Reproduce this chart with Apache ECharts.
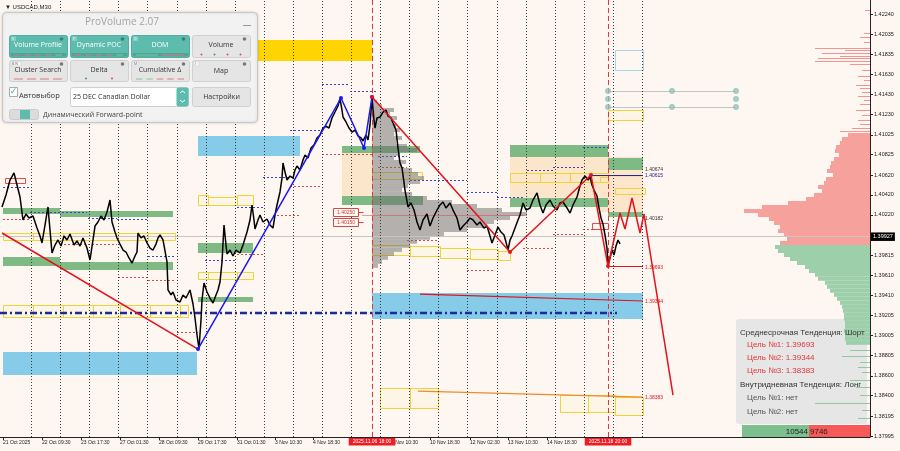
<!DOCTYPE html>
<html><head><meta charset="utf-8">
<script src="https://cdn.jsdelivr.net/npm/echarts@6/dist/echarts.min.js"></script>
<style>html,body{margin:0;padding:0;background:#fdf6f1;}#c{width:900px;height:451px;}</style>
</head><body><div id="c"></div>
<script>
// ---------- DATA ----------
const yMin = 1.37985, yMax = 1.42381;
const barMax = 870;
const currentPrice = 1.39927;
const xLabelPos = [3,42,81,120,159,198,237,275,313,352,391,430,470,508,547];
const xLabelText = ['21 Oct 2025','22 Oct 09:30','23 Oct 17:30','27 Oct 01:30','28 Oct 09:30','29 Oct 17:30','31 Oct 01:30','3 Nov 10:30','4 Nov 18:30','6 Nov 02:30','7 Nov 10:30','10 Nov 18:30','12 Nov 02:30','13 Nov 10:30','14 Nov 18:30'];
const yTickValues = [1.42240,1.42035,1.41835,1.41630,1.41430,1.41230,1.41025,1.40825,1.40620,1.40420,1.40220,1.40015,1.39815,1.39610,1.39410,1.39205,1.39005,1.38805,1.38600,1.38400,1.38195,1.37995];
const gridLineX = [31,60,89,118,147,177,206,235,264,293,322,351,380,409,438,467,497,526,555,584,613,642];
const sessionLineX = [372,608];
const sessionLineText = ['2025.11.06 18:00','2025.11.18 20:00'];

const pricePath = [[2,1.40299],[6,1.40419],[10,1.40570],[14,1.40641],[17,1.40520],[20,1.40399],[23,1.40168],[26,1.40228],[29,1.40188],[33,1.40208],[37,1.40087],[40,1.40007],[42,1.39937],[45,1.40117],[48,1.40299],[50,1.40067],[52,1.39836],[55,1.39916],[58,1.39967],[61,1.39906],[64,1.40007],[67,1.39967],[70,1.40027],[74,1.39916],[77,1.39957],[80,1.39906],[83,1.39987],[87,1.39886],[90,1.39766],[93,1.39967],[95,1.40107],[98,1.40148],[101,1.40208],[104,1.40168],[107,1.40248],[110,1.40369],[112,1.40148],[115,1.40047],[117,1.39987],[120,1.39926],[123,1.39866],[126,1.39846],[129,1.39786],[132,1.39735],[135,1.39806],[137,1.39846],[138,1.40037],[141,1.39987],[144,1.40007],[147,1.39937],[150,1.39886],[153,1.39866],[156,1.39926],[158,1.39987],[160,1.40017],[163,1.39967],[165,1.39987],[167,1.39746],[168,1.39464],[171,1.39414],[173,1.39444],[176,1.39363],[180,1.39343],[183,1.39414],[186,1.39383],[190,1.39464],[193,1.39323],[195,1.39182],[197,1.39011],[199,1.38875],[201,1.39162],[202,1.39363],[204,1.39534],[207,1.39444],[210,1.39383],[213,1.39333],[216,1.39414],[218,1.39464],[220,1.39544],[222,1.39745],[224,1.40117],[226,1.39916],[227,1.39826],[230,1.39866],[233,1.39806],[236,1.39866],[240,1.39836],[243,1.39916],[247,1.40047],[250,1.40168],[252,1.40319],[254,1.40168],[255,1.40077],[258,1.40168],[260,1.40218],[263,1.40148],[267,1.40178],[270,1.40117],[273,1.40087],[275,1.40218],[277,1.40319],[280,1.40450],[282,1.40590],[283,1.40741],[285,1.40651],[287,1.40570],[290,1.40610],[293,1.40590],[295,1.40671],[297,1.40711],[300,1.40671],[303,1.40771],[305,1.40822],[308,1.40792],[311,1.40892],[314,1.40923],[317,1.40993],[320,1.41023],[323,1.41093],[326,1.41113],[329,1.41093],[332,1.41194],[335,1.41254],[338,1.41315],[340,1.41390],[342,1.41274],[343,1.41204],[346,1.41154],[349,1.41093],[352,1.41053],[355,1.41073],[358,1.41013],[361,1.40993],[363,1.40963],[366,1.41023],[368,1.40973],[370,1.41124],[372,1.41395],[374,1.41174],[375,1.41093],[377,1.41194],[380,1.41204],[383,1.41254],[386,1.41274],[388,1.41214],[391,1.41194],[393,1.41144],[396,1.41073],[398,1.40892],[400,1.40741],[402,1.40691],[403,1.40620],[405,1.40469],[408,1.40299],[411,1.40339],[414,1.40268],[417,1.40148],[420,1.40067],[423,1.40168],[427,1.40228],[430,1.40107],[433,1.40188],[437,1.40268],[440,1.40319],[443,1.40349],[446,1.40289],[450,1.40339],[453,1.40268],[457,1.40188],[460,1.40067],[463,1.40107],[467,1.40148],[470,1.40188],[473,1.40168],[477,1.40117],[480,1.40148],[484,1.40087],[487,1.40107],[490,1.40007],[492,1.39937],[495,1.40017],[498,1.40097],[501,1.40047],[504,1.40017],[506,1.39946],[508,1.39866],[510,1.39966],[512,1.40007],[515,1.40087],[518,1.40168],[520,1.40218],[523,1.40339],[526,1.40268],[530,1.40289],[533,1.40369],[537,1.40440],[540,1.40319],[543,1.40238],[546,1.40319],[550,1.40369],[553,1.40309],[557,1.40268],[560,1.40339],[563,1.40349],[567,1.40289],[570,1.40238],[573,1.40319],[577,1.40399],[580,1.40510],[582,1.40570],[585,1.40610],[588,1.40570],[590,1.40600],[592,1.40520],[594,1.40469],[597,1.40409],[599,1.40288],[601,1.40188],[603,1.40127],[605,1.40017],[607,1.39886],[608,1.39705],[610,1.39786],[612,1.39866],[614,1.39816],[616,1.39906],[618,1.39967],[620,1.39927]];

const zigRedA = [[2,1.40037],[198,1.38870]];
const zigBlue = [[198,1.38870],[341,1.41395],[364,1.40892],[372,1.41405]];
const zigRedB = [[372,1.41405],[510,1.39846],[591,1.40620],[608,1.39705]];
const forecastPath = [[608,1.39705],[620,1.40238],[625,1.40077],[632,1.40389],[640,1.40037],[644,1.40228],[673,1.38407]];

const greenZones = [[3,60,1.40228,1.40289],[60,173,1.40198,1.40258],[3,60,1.39705,1.39796],[60,173,1.39665,1.39746],[198,253,1.39836,1.39937],[198,253,1.39343,1.39393],[342,420,1.40842,1.40912],[342,423,1.40319,1.40409],[510,608,1.40802,1.40922],[510,608,1.40299,1.40389],[608,643,1.40671,1.40792],[600,608,1.40802,1.40892],[608,643,1.40198,1.40248],[600,608,1.40309,1.40369]];
const peachZones = [[342,372,1.40409,1.40842],[510,608,1.40389,1.40802],[600,643,1.40248,1.40802]];
const blueZones = [[198,300,1.40812,1.41013],[3,197,1.38609,1.38840],[372,643,1.39172,1.39434]];
const goldZones = [[255,372,1.41767,1.41979]];
const yellowBoxes = [[3,33,1.39967,1.40037],[33,63,1.39967,1.40037],[63,93,1.39967,1.40037],[93,118,1.39967,1.40037],[118,148,1.39967,1.40037],[148,175,1.39967,1.40037],
 [3,33,1.39192,1.39313],[33,63,1.39192,1.39313],[63,93,1.39192,1.39313],[93,120,1.39192,1.39313],[120,150,1.39192,1.39313],[150,180,1.39192,1.39313],[180,188,1.39192,1.39313],
 [198,208,1.40319,1.40419],[208,237,1.40319,1.40400],[237,253,1.40319,1.40419],
 [198,208,1.39574,1.39645],[208,237,1.39574,1.39645],[237,253,1.39574,1.39645],
 [372,380,1.40580,1.40651],[380,410,1.40580,1.40651],[410,422,1.40580,1.40651],
 [372,410,1.39816,1.39916],[410,440,1.39806,1.39906],[440,470,1.39786,1.39886],[470,498,1.39776,1.39876],[498,510,1.39766,1.39856],
 [510,540,1.40550,1.40641],[540,570,1.40550,1.40641],[570,608,1.40550,1.40641],
 [608,643,1.41174,1.41274],[600,608,1.40550,1.40600],[615,645,1.40430,1.40490],
 [380,410,1.38276,1.38478],[410,438,1.38276,1.38478],[560,588,1.38236,1.38407],[588,615,1.38236,1.38407],[615,643,1.38206,1.38387]];
const redBoxes = [[5,25,1.40540,1.40590],[592,608,1.40077,1.40137]];
const blueBoxes = [[615,643,1.41677,1.41878]];
const blueDash = [[3,30,1.40500],[30,87,1.40248],[88,117,1.40188],[117,147,1.40178],[148,175,1.39806],[205,237,1.39765],[237,263,1.40299],[263,290,1.40600],[290,322,1.41073],[322,350,1.41536],[350,378,1.41466],[378,407,1.40812],[410,467,1.40570],[467,497,1.40450],[497,523,1.40399],[527,553,1.40671],[553,583,1.40701],[583,608,1.40902]];
const redDash = [[3,30,1.40178],[60,117,1.39926],[118,147,1.39594],[148,175,1.39564],[177,198,1.39041],[237,263,1.39826],[273,300,1.40218],[290,322,1.40510],[322,372,1.40832],[378,407,1.40701],[407,438,1.39967],[467,495,1.39665],[523,553,1.39886],[553,583,1.40027],[583,608,1.40077]];
const pocLine = [[362,525,1.40218]];
const grayLinks = [[608,736,1.41466],[608,736,1.41305]];
const tealDots = [[608,1.41466],[608,1.41385],[608,1.41305],[672,1.41466],[672,1.41305],[736,1.41466],[736,1.41385],[736,1.41305]];
const dashDotLevel = [[0,1.39232],[617,1.39232]];
const target1Line = [[608,1.39700],[643,1.39700]];
const target2Line = [[420,1.39423],[643,1.39353]];
const target3Line = [[418,1.38447],[643,1.38387]];
const navyLevel = [[591,1.40615],[643,1.40615]];
const levelLabelBar = 645;
const levelLabelValues = [1.40674,1.40615,1.40182,1.39693,1.39344,1.38383];
const boxLabelBar = 333;
const boxLabelValues = [1.40250,1.40150];

// session volume profile (grey)
const gpStartX = 372, gpTop = 1.41375, gpStep = 0.000402;
const gpLens = [5,10,22,18,25,20,24,28,22,30,24,35,45,28,22,34,30,40,46,52,48,36,30,40,55,80,105,130,155,138,122,115,95,72,58,45,38,30,22,16,10,6];
// right-side composite profile
const rpTop = 1.41043, rpStep = 0.000402;
const rpLens = [22,28,30,34,35,31,36,39,40,43,37,44,46,52,48,56,64,82,108,126,112,101,96,90,92,86,83,90,95,92,86,80,73,65,61,55,52,45,43,40,36,33,30,28,27,26,26,25,25,26,25,25,24];
const rpThinUp = [[1.42280,5],[1.42049,6],[1.42009,10],[1.41958,6],[1.41898,55],[1.41878,25],[1.41848,48],[1.41818,30],[1.41798,52],[1.41767,55],[1.41737,20],[1.41677,8],[1.41616,12],[1.41576,6],[1.41526,14],[1.41496,10],[1.41456,8],[1.41415,12],[1.41375,6],[1.41335,10],[1.41274,14],[1.41224,8],[1.41174,12],[1.41134,10],[1.41093,18],[1.41063,30]];
const rpThinDown = [[1.38860,20],[1.38800,28],[1.38740,10],[1.38689,12],[1.38639,8],[1.38559,20],[1.38488,14],[1.38407,10],[1.38327,55],[1.38256,8],[1.38176,12]];

const infoHead1 = 'Среднесрочная Тенденция: Шорт';
const infoTargets = [1.39693,1.39344,1.38383];
const infoHead2 = 'Внутридневная Тенденция: Лонг';
const infoIntraday = ['нет','нет'];
const buyVol = 10544, sellVol = 9746;

// ---------- HELPERS ----------
function rectSeries(data, style, z, xi) {
  return {type:'custom', xAxisIndex: xi||0, yAxisIndex:0, z:z, silent:true, data:data,
    renderItem: function(params, api){
      const a = api.coord([api.value(0), api.value(3)]);
      const b = api.coord([api.value(1), api.value(2)]);
      let x = Math.min(a[0],b[0]), y = Math.min(a[1],b[1]);
      let w = Math.abs(b[0]-a[0]), h = Math.abs(b[1]-a[1]);
      if (style.stroke && style.stroke !== 'none') { x = Math.round(x)+0.5; y = Math.round(y)+0.5; w = Math.round(w); h = Math.max(1,Math.round(h)); }
      return {type:'rect', shape:{x:x,y:y,width:w,height:h}, style:style};
    }};
}
function segSeries(data, style, z, xi) {
  return {type:'custom', xAxisIndex: xi||0, yAxisIndex:0, z:z, silent:true, data:data,
    renderItem: function(params, api){
      const a = api.coord([api.value(0), api.value(2)]);
      const b = api.coord([api.value(1), api.value(2)]);
      const y = Math.round(a[1])+0.5;
      return {type:'line', shape:{x1:a[0],y1:y,x2:b[0],y2:y}, style:style};
    }};
}
function lineSeries(data, color, width, z, extra) {
  return Object.assign({type:'line', data:data, showSymbol:false, symbol:'none', silent:true, z:z,
    lineStyle:{color:color, width:width}}, extra||{});
}

const gpData = gpLens.map((len,i)=>[gpStartX, gpStartX+len, gpTop-(i+1)*gpStep, gpTop-i*gpStep]);
const rpAll = rpLens.map((len,i)=>[0, len, rpTop-(i+1)*rpStep, rpTop-i*rpStep]);
const rpRed = rpAll.filter(d => (d[2]+d[3])/2 > currentPrice);
const rpGreen = rpAll.filter(d => (d[2]+d[3])/2 <= currentPrice);

const series = [
  {type:'line', data:[[0,yMin]], symbol:'none', silent:true, z:0, lineStyle:{opacity:0},
   markLine:{silent:true, symbol:['none','none'], animation:false, label:{show:false},
     lineStyle:{color:'#3a3a3a', width:1, type:[1,2]},
     data: gridLineX.map(v=>({xAxis:v}))}},
  rectSeries(peachZones, {fill:'#fbe6cb'}, 1),
  rectSeries(greenZones, {fill:'#7fba84'}, 1.1),
  rectSeries(blueZones, {fill:'#86cbe7'}, 1.1),
  rectSeries(goldZones, {fill:'#ffd400'}, 1.1),
  rectSeries(yellowBoxes, {fill:'rgba(255,240,160,0.12)', stroke:'#efd23c', lineWidth:1}, 1.2),
  rectSeries(redBoxes, {fill:'none', stroke:'#d9534f', lineWidth:1}, 1.2),
  rectSeries(blueBoxes, {fill:'none', stroke:'#a6d6ea', lineWidth:1}, 1.2),
  segSeries(blueDash, {stroke:'#3a44c8', lineWidth:1, lineDash:[2,2]}, 1.3),
  segSeries(redDash, {stroke:'#d24b4b', lineWidth:1, lineDash:[2,2]}, 1.3),
  segSeries(grayLinks, {stroke:'#c4c4c4', lineWidth:1}, 1.3),
  rectSeries(gpData, {fill:'rgba(105,105,105,0.5)'}, 1.5),
  segSeries(pocLine, {stroke:'rgba(215,80,80,0.55)', lineWidth:1}, 1.6),
  rectSeries(rpRed, {fill:'#f6a19c'}, 2, 1),
  rectSeries(rpGreen, {fill:'#9ccfaa'}, 2, 1),
  segSeries(rpThinUp.map(d=>[0,d[1],d[0]]), {stroke:'#f29590', lineWidth:1}, 2, 1),
  segSeries(rpThinDown.map(d=>[0,d[1],d[0]]), {stroke:'#8fc9a0', lineWidth:1}, 2, 1),
  lineSeries(dashDotLevel, '#1c2a9c', 2.5, 3, {lineStyle:{color:'#1c2a9c', width:2.5, type:[7,3,2,3]}}),
  lineSeries(navyLevel, '#20207e', 1, 3),
  lineSeries(target1Line, '#e3121c', 1.2, 3),
  lineSeries(target2Line, '#e3121c', 1.2, 3),
  lineSeries(target3Line, '#ee8a2a', 1.2, 3),
  lineSeries(pricePath, '#000', 1.5, 5, {
    markLine:{silent:true, symbol:['none','none'], animation:false,
      data:[
        {yAxis:currentPrice, lineStyle:{color:'#c6c6c6', width:1, type:'solid'},
         label:{show:true, position:'end', formatter: currentPrice.toFixed(5), color:'#fff', backgroundColor:'#000', fontSize:5.5, padding:[1.5,2,1,2], distance:1}},
        ...sessionLineX.map((v,i)=>({xAxis:v, lineStyle:{color:'#e0383e', width:1, type:[5,3]},
         label:{show:true, position:'start', formatter: sessionLineText[i], color:'#fff', backgroundColor:'#ee1c24', fontSize:5, padding:[1.5,4,1,4], distance:1}}))
      ]}}),
  lineSeries(zigRedA, '#e3121c', 1.5, 6),
  lineSeries(zigBlue, '#1a1af0', 1.5, 6, {showSymbol:true, symbol:'circle', symbolSize:4, itemStyle:{color:'#1a1af0'}}),
  lineSeries(zigRedB, '#e3121c', 1.5, 6, {showSymbol:true, symbol:'circle', symbolSize:4, itemStyle:{color:'#e3121c'}}),
  lineSeries(forecastPath, '#e3121c', 1.5, 6),
  {type:'scatter', data:tealDots, symbolSize:6, silent:true, z:6, itemStyle:{color:'#8ec3bc'}},
  {type:'custom', z:7, silent:true, data: levelLabelValues.map((v,i)=>[levelLabelBar, v, i]),
   renderItem:function(params, api){
     const p = api.coord([api.value(0), api.value(1)]);
     const i = api.value(2);
     const cols = ['#333','#22228a','#333','#e3121c','#e3121c','#e3121c'];
     return {type:'text', x:p[0], y:p[1], style:{text: levelLabelValues[i].toFixed(5), fill:cols[i], font:'5px "Liberation Sans"', align:'left', verticalAlign:'middle'}};
   }},
  {type:'custom', z:7, silent:true, data: boxLabelValues.map((v,i)=>[boxLabelBar, v, i]),
   renderItem:function(params, api){
     const p = api.coord([api.value(0), api.value(1)]);
     const i = api.value(2);
     const x = Math.round(p[0])+0.5, y = Math.round(p[1])+0.5;
     return {type:'group', children:[
       {type:'rect', shape:{x:x, y:y-4, width:25, height:8}, style:{fill:'#fdf6f1', stroke:'#d04a4a', lineWidth:1}},
       {type:'text', x:x+12.5, y:y, style:{text:boxLabelValues[i].toFixed(5), fill:'#c83c3c', font:'5px "Liberation Sans"', align:'center', verticalAlign:'middle'}},
       {type:'line', shape:{x1:x+25, y1:y, x2:x+30, y2:y}, style:{stroke:'#d04a4a', lineWidth:1}}
     ]};
   }}
];

// ---------- GRAPHIC (panel, info box) ----------
const els = [];
const FONT = '"Open Sans","Liberation Sans",sans-serif';
els.push({type:'text', x:5, y:7, z:20, style:{text:'▼ USDCAD,M30', fill:'#222', font:'6px "Liberation Sans"', verticalAlign:'middle'}});
els.push({type:'rect', z:100, shape:{x:2.5,y:12.5,width:255,height:110,r:4}, style:{fill:'#f2f2f2', stroke:'#c8c8c8', lineWidth:1, shadowBlur:3, shadowColor:'rgba(0,0,0,0.15)'}});
els.push({type:'text', z:101, x:122, y:22, style:{text:'ProVolume 2.07', fill:'#a4a4a4', font:'10px '+FONT, align:'center', verticalAlign:'middle'}});
els.push({type:'line', z:101, shape:{x1:243,y1:25.5,x2:251,y2:25.5}, style:{stroke:'#9a9a9a', lineWidth:1}});
function button(x,y,w,h,label,teal,tag,ind,dots){
  els.push({type:'rect', z:101, shape:{x:x+0.5,y:y+0.5,width:w,height:h,r:2}, style:{fill: teal?'#5dbcae':'#e5e5e5', stroke: teal?'#53ae9f':'#d0d0d0', lineWidth:1}});
  if (teal) els.push({type:'rect', z:102, shape:{x:x+1.5,y:y+h-4,width:w-2,height:3.5}, style:{fill:'#4da597'}});
  els.push({type:'text', z:103, x:x+w/2, y:y+h/2-(ind?1:0), style:{text:label, fill: teal?'#ffffff':'#333', font:'7px '+FONT, align:'center', verticalAlign:'middle'}});
  if (tag) {
    els.push({type:'rect', z:102, shape:{x:x+2,y:y+1.5,width:tag.length>1?10:5,height:4.5}, style:{fill: teal?'rgba(255,255,255,0.25)':'#f6f6f6', stroke: teal?'none':'#cfcfcf', lineWidth:0.5}});
    els.push({type:'text', z:103, x:x+3, y:y+3.8, style:{text:tag, fill: teal?'#e8fffb':'#666', font:'3.5px '+FONT, verticalAlign:'middle'}});
  }
  els.push({type:'circle', z:103, shape:{cx:x+w-5.5, cy:y+4, r:1.8}, style:{fill: teal?'#3d7d74':'#777'}});
  if (ind) {
    const n = ind.length, sp = (w-6)/n;
    ind.forEach((c,i)=>{
      const cx = x+3+sp*(i+0.5), cy = y+h-2.5;
      if (dots) els.push({type:'circle', z:103, shape:{cx:cx, cy:cy, r:1}, style:{fill:c}});
      else els.push({type:'line', z:103, shape:{x1:cx-sp/2+2,y1:cy+0.5,x2:cx+sp/2-2,y2:cy+0.5}, style:{stroke:c, lineWidth:1}});
    });
  }
}
button(9,35,58,22,'Volume Profile',true,'V',['#d97a7a','#d97a7a','#d97a7a','#d97a7a','#7ec98f'],false);
button(70,35,58,22,'Dynamic POC',true,'P',['#d97a7a','#d97a7a','#d97a7a','#d97a7a','#7ec98f'],false);
button(131,35,58,22,'DOM',true,'D',['#7ec98f','#d97a7a'],false);
button(192,35,58,22,'Volume',false,'',['#d9534f','#3aa04f','#d9534f','#d9534f'],true);
button(9,60,58,21,'Cluster Search',false,'B N',['#e07a7a','#e07a7a','#e07a7a','#e07a7a'],false);
button(70,60,58,21,'Delta',false,'',['#3aa04f','#d9534f'],true);
button(131,60,58,21,'Cumulative Δ',false,'M',['#7ec98f','#7ec98f','#e07a7a','#e07a7a','#e07a7a'],false);
button(192,60,58,21,'Map',false,'I',null,false);
els.push({type:'rect', z:101, shape:{x:9.5,y:87.5,width:8,height:9}, style:{fill:'#fff', stroke:'#aaa', lineWidth:1}});
els.push({type:'text', z:102, x:13.5, y:92, style:{text:'✓', fill:'#3ab1a0', font:'bold 9px "DejaVu Sans"', align:'center', verticalAlign:'middle'}});
els.push({type:'text', z:102, x:19, y:96, style:{text:'Автовыбор', fill:'#333', font:'7.5px '+FONT, verticalAlign:'middle'}});
els.push({type:'rect', z:101, shape:{x:70.5,y:87.5,width:118,height:19,r:2}, style:{fill:'#fff', stroke:'#cfcfcf', lineWidth:1}});
els.push({type:'text', z:102, x:73, y:97, style:{text:'25 DEC Canadian Dollar', fill:'#333', font:'7px '+FONT, verticalAlign:'middle'}});
els.push({type:'rect', z:102, shape:{x:176.5,y:87.5,width:12,height:19,r:2}, style:{fill:'#5dbcae'}});
els.push({type:'polyline', z:103, shape:{points:[[180,93],[182.5,91],[185,93]]}, style:{stroke:'#fff', lineWidth:1, fill:'none'}});
els.push({type:'polyline', z:103, shape:{points:[[180,100],[182.5,102],[185,100]]}, style:{stroke:'#fff', lineWidth:1, fill:'none'}});
els.push({type:'rect', z:101, shape:{x:192.5,y:87.5,width:58,height:19,r:2}, style:{fill:'#e5e5e5', stroke:'#d0d0d0', lineWidth:1}});
els.push({type:'text', z:102, x:221.5, y:97, style:{text:'Настройки', fill:'#333', font:'7px '+FONT, align:'center', verticalAlign:'middle'}});
els.push({type:'rect', z:101, shape:{x:9.5,y:109.5,width:29,height:10,r:2}, style:{fill:'#dcdcdc', stroke:'#cccccc', lineWidth:1}});
els.push({type:'rect', z:102, shape:{x:20,y:110,width:10,height:9}, style:{fill:'#5dbcae'}});
els.push({type:'text', z:102, x:43, y:114.5, style:{text:'Динамический Forward-point', fill:'#444', font:'7px '+FONT, verticalAlign:'middle'}});

els.push({type:'rect', z:1, shape:{x:736,y:319,width:131,height:105,r:3}, style:{fill:'rgba(229,229,229,0.95)'}});
const IF = '8px "Liberation Sans",Arial,sans-serif';
els.push({type:'text', z:50, x:740, y:333, style:{text:infoHead1, fill:'#333', font:IF, verticalAlign:'middle'}});
infoTargets.forEach((t,i)=>els.push({type:'text', z:50, x:747, y:345+i*13, style:{text:'Цель №'+(i+1)+': '+t.toFixed(5), fill:'#e0353a', font:IF, verticalAlign:'middle'}}));
els.push({type:'text', z:50, x:740, y:385, style:{text:infoHead2, fill:'#333', font:IF, verticalAlign:'middle'}});
infoIntraday.forEach((t,i)=>els.push({type:'text', z:50, x:747, y:398+i*14, style:{text:'Цель №'+(i+1)+': '+t, fill:'#555', font:IF, verticalAlign:'middle'}}));
const barX = 742, barW = 128;
const gW = Math.round(barW*buyVol/(buyVol+sellVol));
els.push({type:'rect', z:50, shape:{x:barX,y:425,width:gW,height:12}, style:{fill:'#7dbf8e'}});
els.push({type:'rect', z:50, shape:{x:barX+gW,y:425,width:barW-gW,height:12}, style:{fill:'#f65a58'}});
els.push({type:'text', z:51, x:barX+gW-1, y:431.5, style:{text:String(buyVol), fill:'#222', font:IF, align:'right', verticalAlign:'middle'}});
els.push({type:'text', z:51, x:barX+gW+1, y:431.5, style:{text:String(sellVol), fill:'#222', font:IF, align:'left', verticalAlign:'middle'}});

const option = {
  backgroundColor:'#fdf6f1',
  animation:false,
  textStyle:{fontFamily:'Liberation Sans'},
  grid:{left:0, right:30, top:0, bottom:14},
  xAxis:[{type:'value', min:0, max:barMax,
    axisLine:{show:true, onZero:false, lineStyle:{color:'#222', width:1}},
    axisTick:{show:true, customValues:xLabelPos, length:3, lineStyle:{color:'#222'}},
    axisLabel:{show:true, customValues:xLabelPos, formatter:function(v){const i = xLabelPos.indexOf(Math.round(v)); return i>=0?xLabelText[i]:'';}, align:'left', fontSize:5, color:'#222', margin:3},
    splitLine:{show:false}},
    {type:'value', min:0, max:barMax, inverse:true, show:false, splitLine:{show:false}}],
  yAxis:[{type:'value', position:'right', min:yMin, max:yMax,
    axisLine:{show:true, onZero:false, lineStyle:{color:'#222', width:1}},
    axisTick:{show:true, customValues:yTickValues, length:3, lineStyle:{color:'#222'}},
    axisLabel:{show:true, customValues:yTickValues, formatter:function(v){return v.toFixed(5);}, fontSize:5.5, color:'#222', margin:4},
    splitLine:{show:false}}],
  graphic:{elements:els},
  series:series
};
const chart = echarts.init(document.getElementById('c'));
chart.setOption(option);
</script></body></html>
